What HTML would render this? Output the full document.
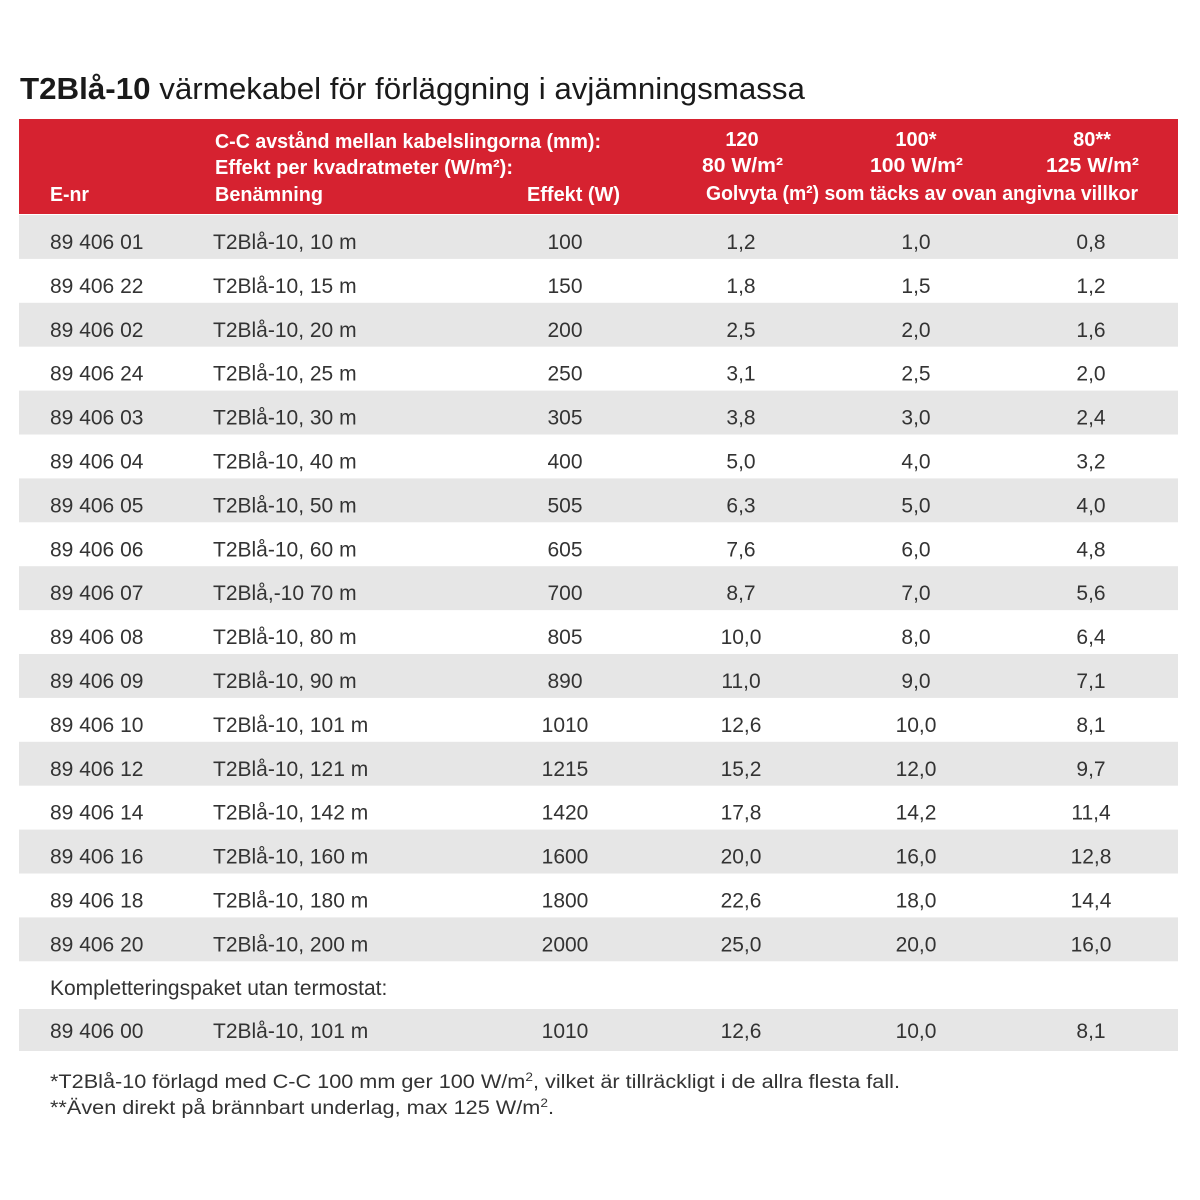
<!DOCTYPE html>
<html><head><meta charset="utf-8"><style>
html,body{margin:0;padding:0;background:#fff;}
svg{display:block}
</style></head><body>
<svg width="1200" height="1200" xmlns="http://www.w3.org/2000/svg" font-family="Liberation Sans, sans-serif">
<text x="20" y="99" font-size="31" fill="#1a1a1a" textLength="785" lengthAdjust="spacingAndGlyphs"><tspan font-weight="bold">T2Blå-10</tspan> värmekabel för förläggning i avjämningsmassa</text>
<rect x="19" y="119" width="1159" height="95" fill="#d62230"/>
<g fill="#fff" font-weight="bold" font-size="20">
<text x="215" y="148" textLength="386" lengthAdjust="spacingAndGlyphs">C-C avstånd mellan kabelslingorna (mm):</text>
<text x="215" y="174" textLength="298" lengthAdjust="spacingAndGlyphs">Effekt per kvadratmeter (W/m²):</text>
<text x="215" y="201" textLength="108" lengthAdjust="spacingAndGlyphs">Benämning</text>
<text x="50" y="201" textLength="39" lengthAdjust="spacingAndGlyphs">E-nr</text>
<text x="527" y="201" textLength="93" lengthAdjust="spacingAndGlyphs">Effekt (W)</text>
<text x="742" y="146" text-anchor="middle">120</text>
<text x="916" y="146" text-anchor="middle">100*</text>
<text x="1092" y="146" text-anchor="middle">80**</text>
<text x="702" y="172" textLength="81" lengthAdjust="spacingAndGlyphs">80 W/m²</text>
<text x="870" y="172" textLength="93" lengthAdjust="spacingAndGlyphs">100 W/m²</text>
<text x="1046" y="172" textLength="93" lengthAdjust="spacingAndGlyphs">125 W/m²</text>
<text x="706" y="200" textLength="432" lengthAdjust="spacingAndGlyphs">Golvyta (m²) som täcks av ovan angivna villkor</text>
</g>
<g id="rows" font-size="21" fill="#333">
<rect x="19" y="215" width="1159" height="43.9" fill="#e6e6e6"/>
<rect x="19" y="302.8" width="1159" height="43.9" fill="#e6e6e6"/>
<rect x="19" y="390.6" width="1159" height="43.9" fill="#e6e6e6"/>
<rect x="19" y="478.4" width="1159" height="43.9" fill="#e6e6e6"/>
<rect x="19" y="566.2" width="1159" height="43.9" fill="#e6e6e6"/>
<rect x="19" y="654" width="1159" height="43.9" fill="#e6e6e6"/>
<rect x="19" y="741.8" width="1159" height="43.9" fill="#e6e6e6"/>
<rect x="19" y="829.6" width="1159" height="43.9" fill="#e6e6e6"/>
<rect x="19" y="917.4" width="1159" height="43.9" fill="#e6e6e6"/>
<rect x="19" y="1009" width="1159" height="42" fill="#e6e6e6"/>
</g>
<g font-size="21" fill="#333">
<g transform="translate(0,249)"><text x="50">89 406 01</text><text x="213">T2Blå-10, 10 m</text><text x="565" text-anchor="middle">100</text><text x="741" text-anchor="middle">1,2</text><text x="916" text-anchor="middle">1,0</text><text x="1091" text-anchor="middle">0,8</text></g>
<g transform="translate(0,292.9)"><text x="50">89 406 22</text><text x="213">T2Blå-10, 15 m</text><text x="565" text-anchor="middle">150</text><text x="741" text-anchor="middle">1,8</text><text x="916" text-anchor="middle">1,5</text><text x="1091" text-anchor="middle">1,2</text></g>
<g transform="translate(0,336.8)"><text x="50">89 406 02</text><text x="213">T2Blå-10, 20 m</text><text x="565" text-anchor="middle">200</text><text x="741" text-anchor="middle">2,5</text><text x="916" text-anchor="middle">2,0</text><text x="1091" text-anchor="middle">1,6</text></g>
<g transform="translate(0,380.7)"><text x="50">89 406 24</text><text x="213">T2Blå-10, 25 m</text><text x="565" text-anchor="middle">250</text><text x="741" text-anchor="middle">3,1</text><text x="916" text-anchor="middle">2,5</text><text x="1091" text-anchor="middle">2,0</text></g>
<g transform="translate(0,424.6)"><text x="50">89 406 03</text><text x="213">T2Blå-10, 30 m</text><text x="565" text-anchor="middle">305</text><text x="741" text-anchor="middle">3,8</text><text x="916" text-anchor="middle">3,0</text><text x="1091" text-anchor="middle">2,4</text></g>
<g transform="translate(0,468.5)"><text x="50">89 406 04</text><text x="213">T2Blå-10, 40 m</text><text x="565" text-anchor="middle">400</text><text x="741" text-anchor="middle">5,0</text><text x="916" text-anchor="middle">4,0</text><text x="1091" text-anchor="middle">3,2</text></g>
<g transform="translate(0,512.4)"><text x="50">89 406 05</text><text x="213">T2Blå-10, 50 m</text><text x="565" text-anchor="middle">505</text><text x="741" text-anchor="middle">6,3</text><text x="916" text-anchor="middle">5,0</text><text x="1091" text-anchor="middle">4,0</text></g>
<g transform="translate(0,556.3)"><text x="50">89 406 06</text><text x="213">T2Blå-10, 60 m</text><text x="565" text-anchor="middle">605</text><text x="741" text-anchor="middle">7,6</text><text x="916" text-anchor="middle">6,0</text><text x="1091" text-anchor="middle">4,8</text></g>
<g transform="translate(0,600.2)"><text x="50">89 406 07</text><text x="213">T2Blå,-10 70 m</text><text x="565" text-anchor="middle">700</text><text x="741" text-anchor="middle">8,7</text><text x="916" text-anchor="middle">7,0</text><text x="1091" text-anchor="middle">5,6</text></g>
<g transform="translate(0,644.1)"><text x="50">89 406 08</text><text x="213">T2Blå-10, 80 m</text><text x="565" text-anchor="middle">805</text><text x="741" text-anchor="middle">10,0</text><text x="916" text-anchor="middle">8,0</text><text x="1091" text-anchor="middle">6,4</text></g>
<g transform="translate(0,688)"><text x="50">89 406 09</text><text x="213">T2Blå-10, 90 m</text><text x="565" text-anchor="middle">890</text><text x="741" text-anchor="middle">11,0</text><text x="916" text-anchor="middle">9,0</text><text x="1091" text-anchor="middle">7,1</text></g>
<g transform="translate(0,731.9)"><text x="50">89 406 10</text><text x="213">T2Blå-10, 101 m</text><text x="565" text-anchor="middle">1010</text><text x="741" text-anchor="middle">12,6</text><text x="916" text-anchor="middle">10,0</text><text x="1091" text-anchor="middle">8,1</text></g>
<g transform="translate(0,775.8)"><text x="50">89 406 12</text><text x="213">T2Blå-10, 121 m</text><text x="565" text-anchor="middle">1215</text><text x="741" text-anchor="middle">15,2</text><text x="916" text-anchor="middle">12,0</text><text x="1091" text-anchor="middle">9,7</text></g>
<g transform="translate(0,819.7)"><text x="50">89 406 14</text><text x="213">T2Blå-10, 142 m</text><text x="565" text-anchor="middle">1420</text><text x="741" text-anchor="middle">17,8</text><text x="916" text-anchor="middle">14,2</text><text x="1091" text-anchor="middle">11,4</text></g>
<g transform="translate(0,863.6)"><text x="50">89 406 16</text><text x="213">T2Blå-10, 160 m</text><text x="565" text-anchor="middle">1600</text><text x="741" text-anchor="middle">20,0</text><text x="916" text-anchor="middle">16,0</text><text x="1091" text-anchor="middle">12,8</text></g>
<g transform="translate(0,907.5)"><text x="50">89 406 18</text><text x="213">T2Blå-10, 180 m</text><text x="565" text-anchor="middle">1800</text><text x="741" text-anchor="middle">22,6</text><text x="916" text-anchor="middle">18,0</text><text x="1091" text-anchor="middle">14,4</text></g>
<g transform="translate(0,951.4)"><text x="50">89 406 20</text><text x="213">T2Blå-10, 200 m</text><text x="565" text-anchor="middle">2000</text><text x="741" text-anchor="middle">25,0</text><text x="916" text-anchor="middle">20,0</text><text x="1091" text-anchor="middle">16,0</text></g>
<text x="50" y="995">Kompletteringspaket utan termostat:</text>
<g transform="translate(0,1038)"><text x="50">89 406 00</text><text x="213">T2Blå-10, 101 m</text><text x="565" text-anchor="middle">1010</text><text x="741" text-anchor="middle">12,6</text><text x="916" text-anchor="middle">10,0</text><text x="1091" text-anchor="middle">8,1</text></g>
</g>
<g font-size="19" fill="#333">
<text x="50" y="1088" textLength="850" lengthAdjust="spacingAndGlyphs">*T2Blå-10 förlagd med C-C 100 mm ger 100 W/m<tspan font-size="12" dy="-7">2</tspan><tspan dy="7">, vilket är tillräckligt i de allra flesta fall.</tspan></text>
<text x="50" y="1114" textLength="504" lengthAdjust="spacingAndGlyphs">**Även direkt på brännbart underlag, max 125 W/m<tspan font-size="12" dy="-7">2</tspan><tspan dy="7">.</tspan></text>
</g>
</svg>
</body></html>
